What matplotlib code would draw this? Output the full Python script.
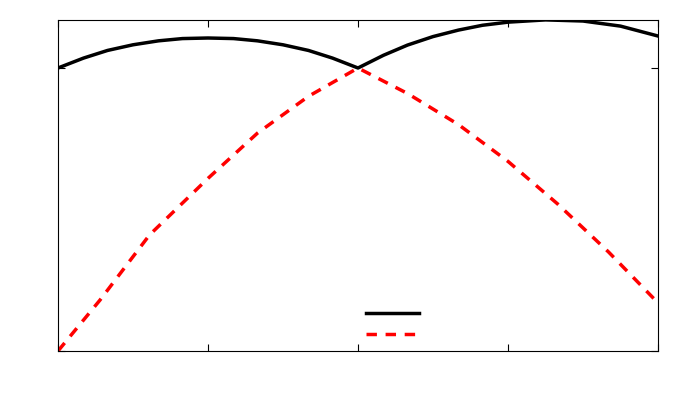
import matplotlib
matplotlib.use("Agg")
import matplotlib.pyplot as plt

x_red = [0, 0.28, 0.61, 1.0, 1.33, 1.67, 2.0, 2.33, 2.67, 3.0, 3.33, 3.67, 4.0]
y_red = [0.0, 0.18, 0.41, 0.61, 0.77, 0.90, 1.0, 0.91, 0.80, 0.67, 0.52, 0.35, 0.17]
x_blk = [0, 0.17, 0.33, 0.5, 0.67, 0.83, 1.0, 1.17, 1.33, 1.5, 1.67, 1.83, 2.0,
         2.17, 2.33, 2.5, 2.67, 2.83, 3.0, 3.25, 3.5, 3.75, 4.0]
y_blk = [1.0, 1.035, 1.062, 1.082, 1.096, 1.104, 1.106, 1.104, 1.096, 1.082, 1.062, 1.035, 1.0,
         1.045, 1.081, 1.111, 1.134, 1.151, 1.162, 1.170, 1.166, 1.148, 1.113]

fig = plt.figure(figsize=(6.92, 4.15), dpi=100)
ax = fig.add_axes([58/692, 1-351/415, 600/692, 331/415])
ax.plot(x_blk, y_blk, color='black', lw=2.5, label=' ')
ax.plot(x_red, y_red, color='red', lw=2.5, ls=(0, (3, 2.5)), label=' ')
ax.set_xlim(0, 4)
ax.set_ylim(0, 331/283)
ax.set_xticks([0, 1, 2, 3, 4])
ax.set_yticks([0, 1])
ax.tick_params(direction='in', top=True, right=True, labelbottom=False, labelleft=False, length=5)
ax.legend(loc='lower center', bbox_to_anchor=(0.57, -0.01), frameon=False, handlelength=3.8, fontsize=10)
fig.savefig('out.png')
